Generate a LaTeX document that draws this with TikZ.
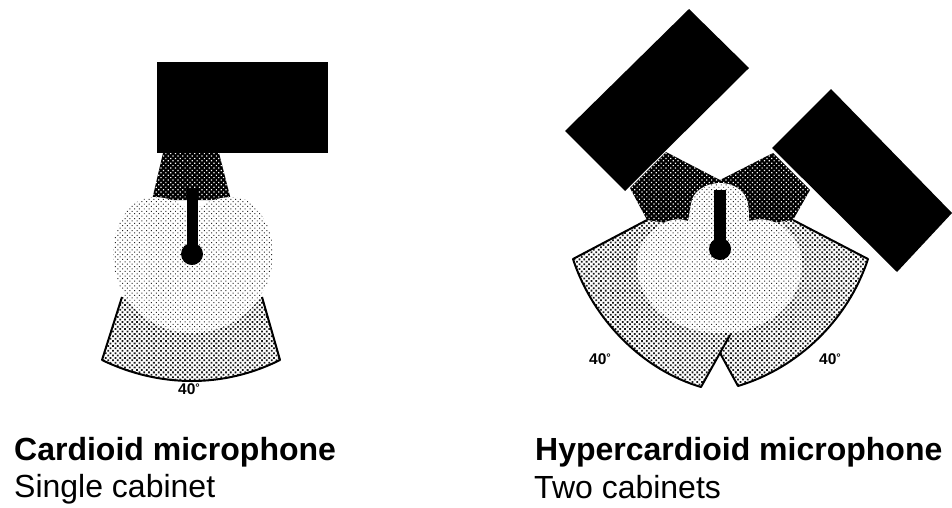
\documentclass[tikz,border=0pt]{standalone}
\usepackage{fontspec}
\setmainfont{Liberation Sans}
\usetikzlibrary{patterns.meta}
\newcommand{\fortydeg}{40\raisebox{0.4ex}{\fontsize{11}{11}\selectfont°}}
\tikzset{
  cabinet/.style={fill=black,draw=none},
  darkzone/.style={fill=black,postaction={pattern={Dots[distance=3.4pt,radius=0.85pt,angle=45]},pattern color=white}},
  midzone/.style={fill=white,postaction={pattern={Dots[distance=3.4pt,radius=1.25pt,angle=45]},pattern color=black!90}},
  lightzone/.style={fill=white,postaction={pattern={Dots[distance=3.4pt,radius=0.7pt,angle=45]},pattern color=black!85}},
  edge/.style={draw=black,line width=2pt,line join=round},
  stem/.style={fill=black,draw=none},
  title/.style={anchor=base west,font=\fontsize{32}{36}\selectfont\bfseries,inner sep=0pt},
  subtitle/.style={anchor=base west,font=\fontsize{32}{36}\selectfont,inner sep=0pt},
  angle/.style={font=\fontsize{15.5}{17}\selectfont\bfseries,inner sep=0pt}
}
\begin{document}
\begin{tikzpicture}[x=1pt,y=-1pt]
\useasboundingbox (0,0) rectangle (952,507);
% --- left diagram
\path[midzone] (122,297) -- (102,360) .. controls (160,388) and (224,388) .. (280,360) -- (262,297) -- cycle;
\draw[edge] (122,297) -- (102,360) .. controls (160,388) and (224,388) .. (280,360) -- (262,297);
\path[darkzone] (163,153) -- (219,153) -- (231,200) -- (152,200) -- cycle;
\path[cabinet] (157,62) rectangle (328,153);
\path[lightzone] (192,214) .. controls (185,204) and (170,197) .. (153,197) .. controls (130,197) and (113,225) .. (113,253) .. controls (113,300) and (150,333) .. (192,333) .. controls (235,333) and (273,300) .. (273,253) .. controls (273,225) and (256,197) .. (233,197) .. controls (215,197) and (200,204) .. (192,214) -- cycle;
\path[stem] (187,188) rectangle (198,250);
\path[stem] (192,254) circle (11);
\node[angle] (la) at (189,389) {\fortydeg};
\node[title] (lt) at (14,460) {Cardioid microphone};
\node[subtitle] (ls) at (14,497) {Single cabinet};
% --- right diagram
\path[midzone] (793,220) -- (868,259) .. controls (848,320) and (798,368) .. (738,386) -- (720,353) -- (730,320) -- (720,250) -- (748,221) -- cycle;
\draw[edge] (793,220) -- (868,259) .. controls (848,320) and (798,368) .. (738,386) -- (720,353);
\path[midzone] (647,220) -- (573,259) .. controls (593,320) and (643,370) .. (701,387) -- (730,335) -- (720,250) -- (688,221) -- cycle;
\draw[edge] (647,220) -- (573,259) .. controls (593,320) and (643,370) .. (701,387) -- (730,335);
\path[darkzone] (666,152) -- (720,180) -- (720,230) -- (688,226) -- (647,220) -- (630,188) -- cycle;
\path[darkzone] (720,180) -- (773,153) -- (810,190) -- (793,220) -- (748,226) -- (720,230) -- cycle;
\path[cabinet] (689,9) -- (749,68) -- (625,191) -- (565,131) -- cycle;
\path[cabinet] (831,89) -- (952,213) -- (897,272) -- (772,148) -- cycle;
\path[lightzone] (720,183) .. controls (705,183) and (692,192) .. (691,204) .. controls (690,210) and (689,216) .. (688,221) .. controls (680,218) and (670,219) .. (662,224) .. controls (648,232) and (637,246) .. (637,263) .. controls (637,305) and (675,333) .. (720,333) .. controls (765,333) and (802,305) .. (802,263) .. controls (802,246) and (792,232) .. (778,224) .. controls (770,219) and (758,218) .. (749,221) .. controls (749,216) and (749,210) .. (748,204) .. controls (746,192) and (735,183) .. (720,183) -- cycle;
\path[stem] (714,190) rectangle (726,245);
\path[stem] (720,249) circle (11);
\node[angle] (ra) at (600,359) {\fortydeg};
\node[angle] (rb) at (830,359) {\fortydeg};
\node[title] (rt) at (535,460) {Hypercardioid microphone};
\node[subtitle] (rs) at (534,498) {Two cabinets};
\end{tikzpicture}
\end{document}
